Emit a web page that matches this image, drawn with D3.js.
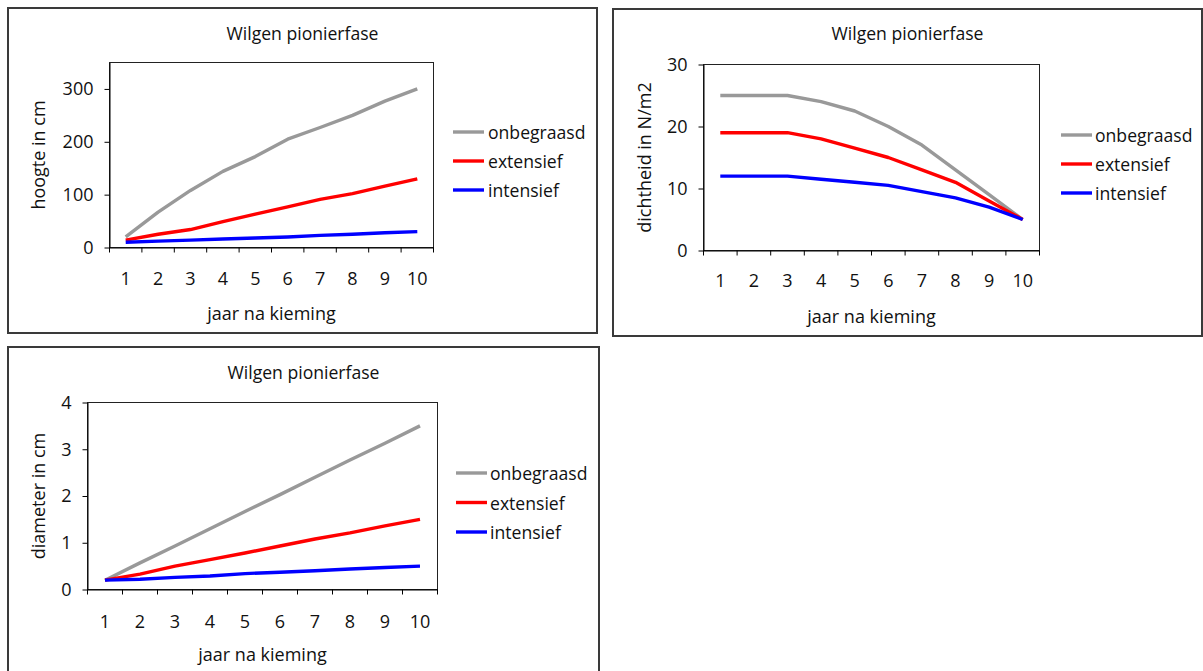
<!DOCTYPE html>
<html>
<head>
<meta charset="utf-8">
<script src="https://cdn.jsdelivr.net/npm/d3@7"></script>
<style>
  html, body { margin: 0; padding: 0; background: #fff; }
  svg { display: block; }
  text { font-family: "Open Sans", "Noto Sans", sans-serif; fill: #111; }
</style>
</head>
<body>
<svg id="chart" width="1203" height="671"></svg>
<script>
// ---------- DATA ----------
const years = ["1", "2", "3", "4", "5", "6", "7", "8", "9", "10"];
const seriesNames = ["onbegraasd", "extensief", "intensief"];
const seriesColors = ["#999999", "#ff0000", "#0000ff"];

const chartTitle = "Wilgen pionierfase";
const xTitle = "jaar na kieming";

// Chart 1: hoogte
const hoogteOnbegraasd = [20, 67, 108, 144, 172, 205, 227, 250, 277, 300];
const hoogteExtensief  = [14, 25, 34, 49, 63, 77, 91, 102, 116, 130];
const hoogteIntensief  = [10, 12, 14, 16, 18, 20, 23, 25, 28, 30];
const hoogteTicks = [0, 100, 200, 300];
const hoogteMax = 350;

// Chart 2: dichtheid
const dichtOnbegraasd = [25, 25, 25, 24, 22.5, 20, 17, 13, 9, 5];
const dichtExtensief  = [19, 19, 19, 18, 16.5, 15, 13, 11, 8, 5];
const dichtIntensief  = [12, 12, 12, 11.5, 11, 10.5, 9.5, 8.5, 7, 5];
const dichtTicks = [0, 10, 20, 30];
const dichtMax = 30;

// Chart 3: diameter
const diamOnbegraasd = [0.2, 0.57, 0.93, 1.3, 1.67, 2.03, 2.4, 2.77, 3.13, 3.5];
const diamExtensief  = [0.2, 0.33, 0.5, 0.64, 0.78, 0.93, 1.08, 1.21, 1.36, 1.5];
const diamIntensief  = [0.2, 0.22, 0.26, 0.29, 0.34, 0.37, 0.4, 0.44, 0.47, 0.5];
const diamTicks = [0, 1, 2, 3, 4];
const diamMax = 4;

// ---------- DRAWING ----------
const svg = d3.select("#chart");

function drawChart(cfg) {
  const g = svg.append("g");

  // outer frame
  g.append("rect")
    .attr("x", cfg.frame.x).attr("y", cfg.frame.y)
    .attr("width", cfg.frame.w).attr("height", cfg.frame.h)
    .attr("fill", "#fff").attr("stroke", "#3a3a3a").attr("stroke-width", 2);

  const p = cfg.plot;
  const x = d3.scaleBand().domain(years).range([p.l, p.r]).padding(0);
  const y = d3.scaleLinear().domain([0, cfg.yMax]).range([p.b, p.t]);

  // plot frame
  g.append("rect")
    .attr("x", p.l).attr("y", p.t)
    .attr("width", p.r - p.l).attr("height", p.b - p.t)
    .attr("fill", "#fff").attr("stroke", "#222").attr("stroke-width", 1);

  // title
  g.append("text")
    .attr("x", cfg.frame.x + cfg.frame.w / 2).attr("y", cfg.titleY)
    .attr("text-anchor", "middle").attr("dominant-baseline", "central")
    .style("font-size", "17.6px")
    .text(chartTitle);

  // y axis
  const yAxis = d3.axisLeft(y).tickValues(cfg.yTicks).tickSize(5).tickSizeOuter(0).tickPadding(11)
    .tickFormat(d3.format("d"));
  const gy = g.append("g").attr("transform", `translate(${p.l},0)`).call(yAxis);
  gy.select(".domain").attr("stroke", "#000");
  gy.selectAll(".tick line").attr("stroke", "#000");
  gy.selectAll(".tick text").style("font-size", "18px").style("font-family", '"Open Sans", sans-serif').attr("fill", "#111");

  // x axis: labels at category centres, ticks at category boundaries
  const xAxis = d3.axisBottom(x).tickSize(0).tickSizeOuter(0).tickPadding(0);
  const gx = g.append("g").attr("transform", `translate(0,${p.b})`).call(xAxis);
  gx.select(".domain").attr("stroke", "#000");
  gx.selectAll(".tick text")
    .style("font-size", "18px").style("font-family", '"Open Sans", sans-serif').attr("fill", "#111")
    .attr("dy", null).attr("y", cfg.xLabelDy).attr("dominant-baseline", "central");
  const bounds = d3.range(years.length + 1).map(i => x.range()[0] + i * x.step());
  g.append("g").selectAll("line").data(bounds).join("line")
    .attr("x1", d => d).attr("x2", d => d)
    .attr("y1", p.b).attr("y2", p.b + 5)
    .attr("stroke", "#000");

  // axis titles
  g.append("text")
    .attr("transform", `translate(${cfg.yTitleX},${(p.t + p.b) / 2}) rotate(-90)`)
    .attr("text-anchor", "middle").attr("dominant-baseline", "central")
    .style("font-size", "18px")
    .text(cfg.yTitle);
  g.append("text")
    .attr("x", (p.l + p.r) / 2).attr("y", cfg.xTitleY)
    .attr("text-anchor", "middle").attr("dominant-baseline", "central")
    .style("font-size", "18px")
    .text(xTitle);

  // lines
  const line = d3.line()
    .x((d, i) => x(years[i]) + x.bandwidth() / 2)
    .y(d => y(d));
  cfg.series.forEach((vals, si) => {
    g.append("path")
      .datum(vals)
      .attr("d", line)
      .attr("fill", "none")
      .attr("stroke", seriesColors[si])
      .attr("stroke-width", 3.4)
      .attr("stroke-linejoin", "round");
  });

  // legend
  const L = cfg.legend;
  seriesNames.forEach((name, si) => {
    const yy = L.y0 + si * L.dy;
    g.append("line")
      .attr("x1", L.x1).attr("x2", L.x2).attr("y1", yy).attr("y2", yy)
      .attr("stroke", seriesColors[si]).attr("stroke-width", 3.4);
    g.append("text")
      .attr("x", L.tx).attr("y", yy)
      .attr("dominant-baseline", "central")
      .style("font-size", "17.6px")
      .text(name);
  });
}

drawChart({
  frame: { x: 8, y: 8, w: 589, h: 325 },
  plot: { l: 109.5, t: 62.5, r: 433.5, b: 247.5 },
  yMax: hoogteMax, yTicks: hoogteTicks,
  titleY: 33, yTitle: "hoogte in cm", yTitleX: 38, xTitleY: 313, xLabelDy: 30,
  series: [hoogteOnbegraasd, hoogteExtensief, hoogteIntensief],
  legend: { x1: 453, x2: 484, tx: 488, y0: 132, dy: 29 }
});

drawChart({
  frame: { x: 613, y: 9, w: 589, h: 327 },
  plot: { l: 703.5, t: 64.5, r: 1039.5, b: 250.5 },
  yMax: dichtMax, yTicks: dichtTicks,
  titleY: 33, yTitle: "dichtheid in N/m2", yTitleX: 644, xTitleY: 316, xLabelDy: 29,
  series: [dichtOnbegraasd, dichtExtensief, dichtIntensief],
  legend: { x1: 1061, x2: 1092, tx: 1095, y0: 135, dy: 29 }
});

drawChart({
  frame: { x: 8, y: 347, w: 591, h: 340 },
  plot: { l: 87.5, t: 402.5, r: 437.5, b: 589.5 },
  yMax: diamMax, yTicks: diamTicks,
  titleY: 372, yTitle: "diameter in cm", yTitleX: 38, xTitleY: 654, xLabelDy: 31,
  series: [diamOnbegraasd, diamExtensief, diamIntensief],
  legend: { x1: 456, x2: 487, tx: 490, y0: 473, dy: 29.5 }
});
</script>
</body>
</html>
